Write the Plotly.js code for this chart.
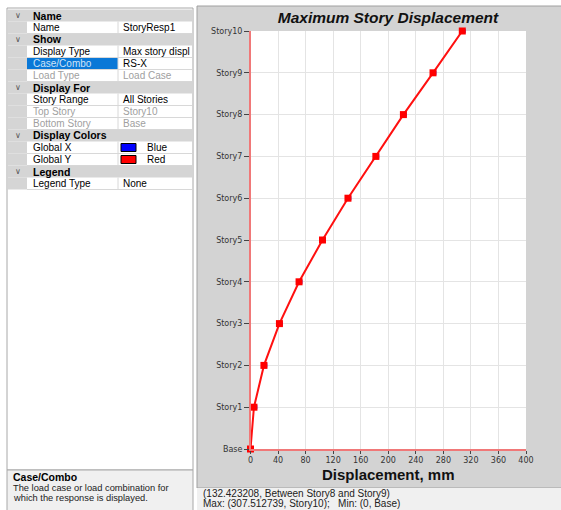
<!DOCTYPE html>
<html>
<head>
<meta charset="utf-8">
<script src="https://cdn.plot.ly/plotly-3.0.1.min.js"></script>
<style>html,body{margin:0;padding:0;background:#fff;}#chart{width:561px;height:510px;}</style>
</head>
<body>
<div id="chart"></div>
<script>
// ---- data ----
const storyLabels = ['Base','Story1','Story2','Story3','Story4','Story5','Story6','Story7','Story8','Story9','Story10'];
const storyLevels = [0,1,2,3,4,5,6,7,8,9,10];
const dispGlobalY = [0, 5, 19.5, 42, 70.5, 104.5, 141.5, 182, 222, 265, 307.5];   // red
const dispGlobalX = [1.5, 7, 21.5, 44, 72.5, 106.5, 143.5, 184, 224, 267, 309.5]; // blue (mostly hidden under red)
const xTicks = [0,40,80,120,160,200,240,280,320,360,400];

const gridRows = [
  {h:'Name'},
  {k:'Name', v:'StoryResp1'},
  {h:'Show'},
  {k:'Display Type', v:'Max story displ'},
  {k:'Case/Combo', v:'RS-X', sel:true},
  {k:'Load Type', v:'Load Case', dim:true},
  {h:'Display For'},
  {k:'Story Range', v:'All Stories'},
  {k:'Top Story', v:'Story10', dim:true},
  {k:'Bottom Story', v:'Base', dim:true},
  {h:'Display Colors'},
  {k:'Global X', v:'Blue', sw:'#0000ff'},
  {k:'Global Y', v:'Red', sw:'#ff0000'},
  {h:'Legend'},
  {k:'Legend Type', v:'None'}
];

// ---- helpers ----
const W = 561, H = 510;
const px = x => x / W, py = y => 1 - y / H;
const shapes = [], annotations = [];
const FONT = 'Liberation Sans, Arial, sans-serif';
const TICKFONT = 'DejaVu Sans, Verdana, sans-serif';
function rect(x0, y0, x1, y1, fill, lineColor, lw) {
  shapes.push({type:'rect', xref:'paper', yref:'paper', x0:px(x0), x1:px(x1), y0:py(y1), y1:py(y0),
    fillcolor: fill, line:{color: lineColor || 'rgba(0,0,0,0)', width: lw || 0}, layer:'below'});
}
function seg(x0, y0, x1, y1, color, lw) {
  shapes.push({type:'line', xref:'paper', yref:'paper', x0:px(x0), x1:px(x1), y0:py(y0), y1:py(y1),
    line:{color: color, width: lw || 1}, layer:'below'});
}
function txt(x, y, t, o) {
  o = o || {};
  annotations.push({xref:'paper', yref:'paper', x:px(x), y:py(y), text:t, showarrow:false,
    xanchor:o.xa || 'left', yanchor:'middle',
    font:{family:o.family || FONT, size:o.size || 10, color:o.color || '#000'}});
}

// ---- left property grid ----
rect(7, 8, 193, 470, '#ffffff', '#a8a8a8', 1);
const rowTop = 9.5, rowH = 12;
gridRows.forEach((r, i) => {
  const y0 = rowTop + i * rowH, y1 = y0 + rowH, yc = y0 + rowH / 2;
  if (r.h) {
    rect(8, y0, 192, y1, '#d5d5d5');
    txt(13, yc, '∨', {size:8, color:'#555', family:'DejaVu Sans, sans-serif'});
    txt(31, yc, '<b>' + r.h + '</b>', {size:10.5});
  } else {
    rect(8, y0, 27, y1, '#d5d5d5');
    if (r.sel) rect(27, y0 + 0.5, 118, y1 - 0.5, '#0a78d7');
    seg(27, y1, 192, y1, '#d8d8d8', 1);
    seg(118, y0, 118, y1, '#d8d8d8', 1);
    const kc = r.sel ? '#cfe4f7' : (r.dim ? '#a0a0a0' : '#000');
    const vc = r.dim ? '#a0a0a0' : '#000';
    txt(31, yc, r.k, {size:10, color:kc});
    if (r.sw) {
      rect(121, y0 + 2, 136, y1 - 2, r.sw, '#000', 1);
      txt(145, yc, r.v, {size:10, color:vc});
    } else {
      txt(121, yc, r.v, {size:10, color:vc});
    }
  }
});
// description box
rect(7, 470, 193, 512, '#f0f0f0', '#a8a8a8', 1);
txt(11, 477, '<b>Case/Combo</b>', {size:10.5});
txt(11, 488, 'The load case or load combination for', {size:9.3, color:'#222'});
txt(11, 498, 'which the response is displayed.', {size:9.3, color:'#222'});

// ---- chart panel ----
rect(197, 6, 563, 488, '#d3d3d3', '#a0a0a0', 1);
rect(250.5, 31, 526, 449, '#ffffff');
rect(197, 488, 563, 512, '#f0f0f0');
txt(201, 493, '(132.423208, Between Story8 and Story9)', {size:10, color:'#222'});
txt(201, 503.5, 'Max: (307.512739, Story10);   Min: (0, Base)', {size:10, color:'#222'});

const traces = [
  {x: dispGlobalX, y: storyLevels, type:'scatter', mode:'markers', name:'Global X',
   marker:{color:'#2020ff', size:4, symbol:'square'}, hoverinfo:'skip', cliponaxis:false},
  {x: dispGlobalY, y: storyLevels, type:'scatter', mode:'lines+markers', name:'Global Y',
   line:{color:'#ff1010', width:2}, marker:{color:'#ff0000', size:7, symbol:'square'}, cliponaxis:false}
];

const layout = {
  width: W, height: H,
  margin:{l:0, r:0, t:0, b:0},
  paper_bgcolor:'#ffffff', plot_bgcolor:'rgba(0,0,0,0)',
  showlegend:false,
  title:{text:'<b><i>Maximum Story Displacement</i></b>', x:px(388), xanchor:'center', y:py(18), yanchor:'middle',
    font:{family:FONT, size:15.5, color:'#111'}},
  xaxis:{domain:[px(250.5), px(526)], range:[0,400], tickvals:xTicks, ticktext:xTicks.map(String),
    showgrid:true, gridcolor:'#e4e4e4', gridwidth:1, zeroline:false,
    showline:true, linecolor:'#f07878', linewidth:1.5, mirror:false,
    ticks:'outside', ticklen:3, tickcolor:'#444', tickwidth:1,
    tickfont:{family:TICKFONT, size:8, color:'#333'},
    title:{text:'<b>Displacement, mm</b>', font:{family:FONT, size:15, color:'#111'}, standoff:5}},
  yaxis:{domain:[py(449), py(31)], range:[0,10], tickvals:storyLevels, ticktext:storyLabels,
    showgrid:true, gridcolor:'#e4e4e4', gridwidth:1, zeroline:false,
    showline:true, linecolor:'#f07878', linewidth:1.5,
    ticks:'outside', ticklen:5, tickcolor:'#444', tickwidth:1,
    tickfont:{family:TICKFONT, size:8, color:'#333'}},
  shapes: shapes,
  annotations: annotations
};

Plotly.newPlot('chart', traces, layout, {displayModeBar:false, staticPlot:true});
</script>
</body>
</html>
